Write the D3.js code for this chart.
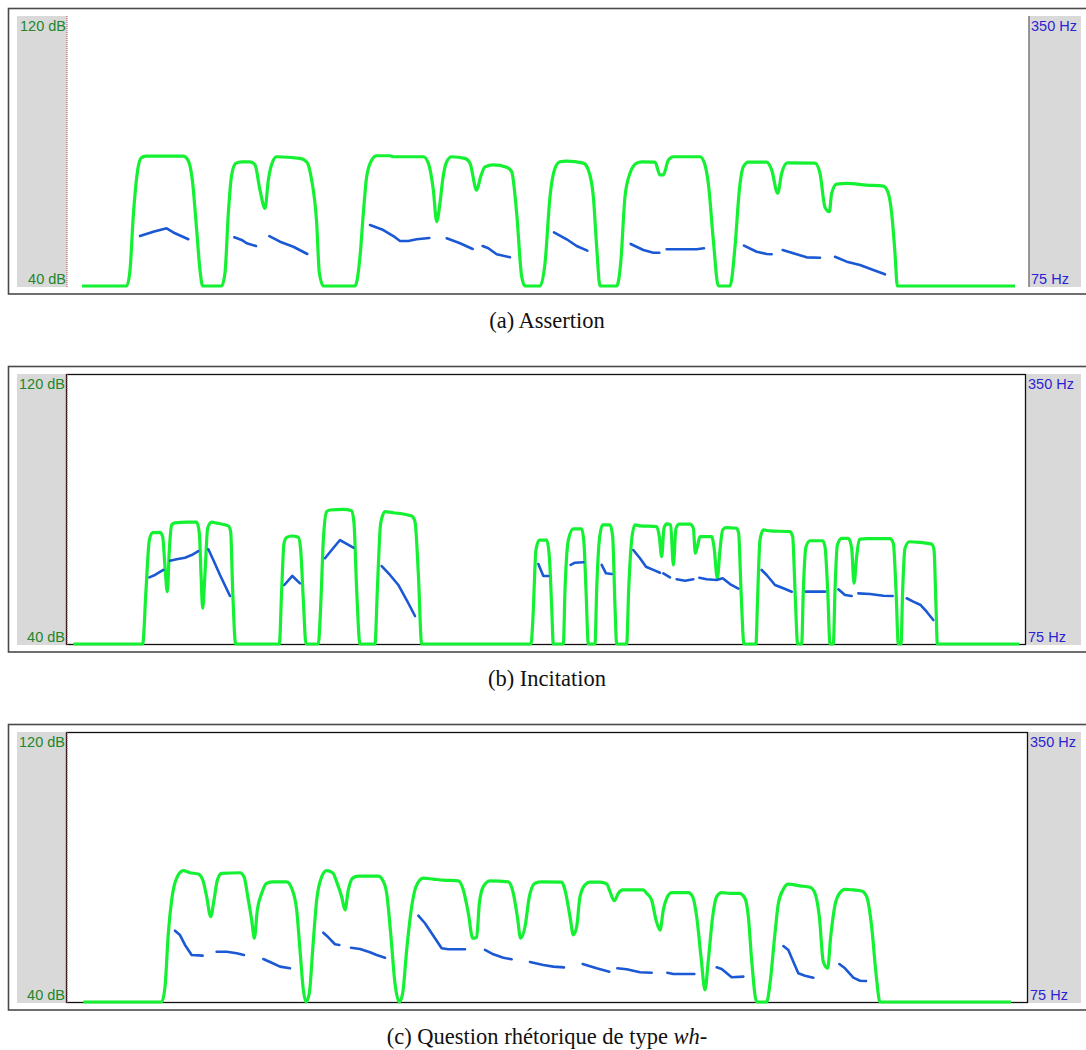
<!DOCTYPE html>
<html><head><meta charset="utf-8">
<script src="https://cdn.jsdelivr.net/npm/d3@7"></script>
<style>body{margin:0;background:#fff}</style></head>
<body>
<script>
// ---------- data ----------
const captionLetters = ["(a)", "(b)", "(c)"];
const captionTexts = ["Assertion", "Incitation", "Question rhétorique de type "];
const captionItalic = ["", "", "wh-"];
const dbLabels = ["120 dB", "40 dB"];
const hzLabels = ["350 Hz", "75 Hz"];
const dbDomain = [40, 120];
const hzDomain = [75, 350];
const timeDomain = [0, 2.88]; // seconds

// intensity (time s, dB)
const intensityA = [[0.045,40],[0.179,40],[0.189,44.7],[0.199,61.0],[0.210,72.9],[0.222,77.9],[0.237,78.5],[0.349,78.5],[0.363,77.3],[0.376,71.4],[0.389,56.6],[0.399,44.7],[0.407,40],
[0.464,40],[0.474,43.9],[0.484,61.6],[0.494,72.9],[0.507,76.4],[0.524,76.8],[0.549,76.8],[0.564,75.9],[0.579,68.4],[0.594,63.0],[0.604,71.4],[0.619,77.3],[0.629,78.3],[0.699,77.8],[0.719,76.8],[0.734,71.4],[0.749,58.7],[0.757,43.9],[0.769,40],
[0.864,40],[0.879,48.7],[0.889,61.6],[0.899,72.4],[0.914,77.3],[0.929,78.6],[0.969,78.6],[0.979,78.3],[1.069,78.3],[1.084,76.4],[1.099,68.4],[1.109,59.1],[1.119,64.6],[1.127,71.4],[1.139,76.8],[1.154,78.3],[1.194,77.8],[1.209,76.4],[1.229,68.4],[1.241,72.4],[1.254,75.3],[1.279,75.9],[1.319,75.2],[1.334,73.9],[1.349,61.6],[1.364,42.8],[1.374,40],
[1.419,40],[1.434,46.7],[1.449,66.5],[1.464,74.9],[1.479,76.8],[1.499,77.0],[1.549,76.4],[1.564,74.4],[1.579,66.5],[1.589,51.6],[1.599,40],
[1.649,40],[1.661,46.7],[1.674,66.5],[1.689,73.4],[1.709,76.4],[1.724,76.8],[1.764,76.7],[1.779,72.9],[1.789,72.9],[1.804,77.3],[1.819,78.3],[1.899,78.3],[1.911,76.8],[1.924,70.4],[1.939,53.6],[1.954,40],
[1.989,40],[2.004,51.6],[2.017,68.4],[2.029,75.3],[2.044,76.7],[2.099,76.7],[2.114,74.4],[2.132,67.5],[2.144,73.4],[2.161,76.5],[2.244,76.4],[2.259,73.4],[2.274,63.3],[2.287,62.0],[2.294,67.5],[2.309,70.2],[2.339,70.4],[2.399,69.9],[2.449,69.6],[2.464,67.5],[2.474,61.5],[2.484,49.7],[2.491,40],[2.844,40]];

const intensityB = [[0.019,40],[0.227,40],[0.237,56.0],[0.247,70.8],[0.257,73.0],[0.279,73.1],[0.287,71.8],[0.294,62.9],[0.301,55.5],[0.307,67.9],[0.314,75.3],[0.324,75.9],[0.359,76.1],[0.389,76.1],[0.397,72.8],[0.402,60.9],[0.407,50.6],[0.414,60.9],[0.422,74.3],[0.434,76.1],[0.449,75.8],[0.484,75.0],[0.491,73.3],[0.497,56.0],[0.506,40],
[0.637,40],[0.644,56.0],[0.651,69.8],[0.659,71.6],[0.674,72.0],[0.694,71.6],[0.701,67.9],[0.709,53.0],[0.717,40],
[0.754,40],[0.761,51.1],[0.769,70.8],[0.779,79.2],[0.789,79.7],[0.829,79.9],[0.854,79.5],[0.861,75.8],[0.869,56.0],[0.879,40],
[0.924,40],[0.931,56.0],[0.941,75.8],[0.954,79.2],[0.979,78.9],[1.034,77.9],[1.044,76.2],[1.054,60.9],[1.064,40],
[1.392,40],[1.397,46.1],[1.407,67.9],[1.417,70.8],[1.439,70.8],[1.447,65.9],[1.454,51.1],[1.459,40],
[1.489,40],[1.494,56.0],[1.504,70.8],[1.519,74.1],[1.544,74.1],[1.551,69.8],[1.557,56.0],[1.564,40],
[1.584,40],[1.589,56.0],[1.597,70.8],[1.607,75.3],[1.629,75.3],[1.637,71.8],[1.644,51.1],[1.649,40],
[1.679,40],[1.685,56.0],[1.694,70.8],[1.704,75.3],[1.719,75.0],[1.769,74.8],[1.777,71.8],[1.784,65.9],[1.791,74.3],[1.799,75.6],[1.811,75.3],[1.819,63.4],[1.827,74.3],[1.837,75.5],[1.869,75.5],[1.879,74.3],[1.885,66.9],[1.892,69.3],[1.899,71.8],[1.934,71.8],[1.941,68.8],[1.951,59.5],[1.959,67.9],[1.967,73.8],[1.977,74.5],[2.009,74.3],[2.015,72.8],[2.022,56.0],[2.031,40],
[2.067,40],[2.071,51.1],[2.079,70.8],[2.089,73.8],[2.109,73.5],[2.169,73.3],[2.177,71.8],[2.184,56.0],[2.192,40],
[2.204,40],[2.209,56.0],[2.217,68.8],[2.229,70.6],[2.267,70.6],[2.274,68.8],[2.282,56.0],[2.289,40],
[2.299,40],[2.304,56.0],[2.311,69.3],[2.324,71.3],[2.344,71.3],[2.354,68.4],[2.361,58.0],[2.369,65.9],[2.377,71.0],[2.399,71.2],[2.469,71.2],[2.479,69.8],[2.487,56.0],[2.494,40],
[2.502,40],[2.507,56.0],[2.514,68.4],[2.527,70.3],[2.559,70.1],[2.594,69.6],[2.601,67.9],[2.607,51.1],[2.611,40],[2.857,40]];

const intensityC = [[0.049,40],[0.284,40],[0.294,44.5],[0.304,60.4],[0.314,70.2],[0.329,76.7],[0.349,78.9],[0.369,78.3],[0.394,77.9],[0.409,75.6],[0.419,71.2],[0.431,65.3],[0.441,70.2],[0.451,76.1],[0.464,78.1],[0.519,78.3],[0.531,77.1],[0.544,70.2],[0.554,64.3],[0.562,58.9],[0.571,67.3],[0.584,72.2],[0.599,75.2],[0.619,75.6],[0.659,75.6],[0.674,73.7],[0.689,67.3],[0.699,55.4],[0.709,43.6],[0.717,40],
[0.727,42.6],[0.737,55.4],[0.749,70.2],[0.764,77.1],[0.779,78.9],[0.797,78.3],[0.809,75.6],[0.824,71.2],[0.834,67.3],[0.844,73.2],[0.857,76.7],[0.874,77.3],[0.934,77.3],[0.947,76.1],[0.959,72.2],[0.971,60.4],[0.984,45.5],[0.997,40],
[1.007,42.6],[1.019,55.4],[1.034,68.2],[1.047,74.2],[1.069,76.7],[1.099,76.4],[1.129,76.1],[1.174,75.9],[1.189,73.2],[1.204,66.3],[1.217,58.9],[1.229,59.2],[1.237,69.2],[1.249,74.2],[1.269,75.9],[1.324,75.6],[1.339,72.2],[1.351,65.3],[1.361,58.9],[1.374,62.3],[1.387,71.2],[1.404,75.2],[1.424,75.6],[1.484,75.5],[1.494,73.2],[1.509,65.3],[1.519,59.9],[1.529,62.3],[1.539,71.2],[1.554,74.7],[1.569,75.5],[1.599,75.5],[1.619,75.0],[1.629,72.7],[1.642,70.0],[1.654,72.2],[1.667,73.2],[1.729,73.2],[1.739,72.2],[1.754,70.2],[1.767,64.3],[1.779,61.3],[1.789,67.3],[1.799,70.7],[1.814,72.4],[1.864,72.4],[1.877,71.2],[1.889,65.3],[1.902,53.4],[1.914,43.6],[1.924,52.4],[1.937,65.3],[1.949,71.2],[1.964,72.4],[1.989,72.2],[2.017,72.2],[2.034,70.7],[2.044,65.3],[2.054,52.4],[2.069,40],
[2.099,40],[2.109,45.5],[2.124,60.4],[2.134,69.2],[2.149,73.4],[2.164,74.9],[2.199,74.4],[2.229,74.0],[2.244,72.2],[2.257,65.3],[2.269,51.9],[2.282,50.0],[2.291,59.3],[2.304,68.7],[2.319,72.4],[2.334,73.4],[2.359,73.2],[2.384,72.9],[2.399,71.2],[2.414,62.3],[2.427,48.5],[2.439,40],[2.832,40]];

// pitch contours (time s, Hz), one list per voiced stretch
const pitchA = [
 [[0.219,125.9],[0.259,130.3],[0.299,133.8],[0.324,128.7],[0.364,122.6]],
 [[0.502,124.6],[0.524,121.9],[0.539,118.5],[0.567,115.7]],
 [[0.607,125.9],[0.639,120.1],[0.679,115.0],[0.721,107.6]],
 [[0.909,137.1],[0.949,132.0],[0.979,125.9],[0.999,120.8],[1.024,120.8],[1.049,122.6],[1.087,123.9]],
 [[1.139,123.6],[1.179,118.5],[1.217,112.7]],
 [[1.247,115.7],[1.264,113.4],[1.289,107.3],[1.329,104.2]],
 [[1.461,129.7],[1.499,122.6],[1.529,115.7],[1.561,111.0]],
 [[1.691,117.8],[1.729,111.7],[1.759,108.9],[1.777,108.9]],
 [[1.799,112.4],[1.889,112.4],[1.911,113.4]],
 [[2.031,116.1],[2.069,109.9],[2.099,107.6],[2.114,107.3]],
 [[2.147,111.7],[2.179,108.3],[2.219,104.2],[2.259,103.8]],
 [[2.304,104.8],[2.339,99.8],[2.379,96.4],[2.419,91.3],[2.454,86.9]]
];
const pitchB = [
 [[0.247,142.9],[0.264,145.3],[0.289,150.4]],
 [[0.309,159.8],[0.329,161.3],[0.354,162.9],[0.374,165.6],[0.394,169.7]],
 [[0.424,171.5],[0.439,160.6],[0.459,145.3],[0.489,123.9]],
 [[0.652,135.1],[0.676,144.3],[0.699,136.8]],
 [[0.774,162.3],[0.794,170.7],[0.819,180.9],[0.839,176.9],[0.859,173.1]],
 [[0.944,154.4],[0.969,145.3],[0.994,135.1],[1.019,119.8],[1.044,103.5]],
 [[1.414,156.5],[1.429,144.3],[1.444,144.3]],
 [[1.511,155.5],[1.524,157.8],[1.549,158.2]],
 [[1.604,155.5],[1.617,147.0],[1.634,146.3]],
 [[1.699,170.7],[1.719,162.3],[1.737,153.7],[1.764,149.7],[1.779,147.6]],
 [[1.789,147.0],[1.809,142.9]],
 [[1.829,140.9],[1.854,139.5],[1.879,140.9]],
 [[1.897,142.5],[1.919,140.9],[1.949,140.2],[1.967,141.9],[1.989,136.1],[2.014,131.3]],
 [[2.084,150.4],[2.099,145.3],[2.124,135.1],[2.149,131.7],[2.174,128.3]],
 [[2.217,128.3],[2.274,128.3]],
 [[2.314,130.7],[2.334,124.9],[2.354,123.9]],
 [[2.374,126.6],[2.409,125.9],[2.449,124.2],[2.477,123.9]],
 [[2.519,121.6],[2.539,118.1],[2.561,114.7],[2.579,107.9],[2.599,99.4]]
];
const pitchC = [
 [[0.324,147.6],[0.339,143.2],[0.354,133.1],[0.374,122.9],[0.407,122.2]],
 [[0.449,126.2],[0.479,126.2],[0.509,124.6],[0.531,122.9]],
 [[0.589,118.8],[0.614,115.0],[0.639,111.0],[0.669,109.3]],
 [[0.769,145.6],[0.784,140.9],[0.804,133.8],[0.817,133.1]],
 [[0.852,130.3],[0.879,129.0],[0.909,125.6],[0.929,122.9],[0.954,120.1]],
 [[1.054,162.9],[1.074,155.2],[1.094,145.0],[1.124,129.7],[1.144,128.7],[1.194,128.7]],
 [[1.254,128.0],[1.279,123.6],[1.309,120.1],[1.334,118.5]],
 [[1.389,115.7],[1.429,112.7],[1.459,111.0],[1.491,110.3]],
 [[1.547,113.7],[1.589,109.3],[1.627,105.9]],
 [[1.651,109.3],[1.679,108.3],[1.719,105.3],[1.754,104.8]],
 [[1.801,104.8],[1.819,103.5],[1.882,103.5]],
 [[1.949,110.3],[1.964,108.6],[1.994,100.2],[2.029,100.8]],
 [[2.149,132.0],[2.164,128.0],[2.179,116.1],[2.194,104.2],[2.214,101.8],[2.239,99.8]],
 [[2.317,113.7],[2.334,109.3],[2.359,99.8],[2.379,96.7],[2.397,96.4]]
];

// ---------- drawing ----------
const W = 1086, H = 1050;
const svg = d3.select("body").append("svg").attr("width", W).attr("height", H)
  .style("display","block");

const panels = [
  {top: 16,  plotLeft: 67, plotRight: 1028, border: false, intensity: intensityA, pitch: pitchA},
  {top: 374, plotLeft: 66, plotRight: 1025, border: true,  intensity: intensityB, pitch: pitchB},
  {top: 732, plotLeft: 66, plotRight: 1027, border: true,  intensity: intensityC, pitch: pitchC}
];
const PH = 270;
const x = d3.scaleLinear().domain(timeDomain).range([67, 1027]);

panels.forEach((p, i) => {
  const g = svg.append("g");
  const yDb = d3.scaleLinear().domain(dbDomain).range([p.top + PH, p.top]);
  const yHz = d3.scaleLinear().domain(hzDomain).range([p.top + PH, p.top]);

  // outer frame
  g.append("rect").attr("x", 8.5).attr("y", p.top - 7.5).attr("width", W + 10).attr("height", PH + 15.5)
    .attr("fill", "none").attr("stroke", "#4a4a4a").attr("stroke-width", 1.6);

  // grey side panels
  g.append("rect").attr("x", 17).attr("y", p.top).attr("width", p.plotLeft - 17).attr("height", PH + 1)
    .attr("fill", "#d9d9d9");
  g.append("rect").attr("x", p.plotRight + 1).attr("y", p.top).attr("width", 1081 - p.plotRight - 1).attr("height", PH + 1)
    .attr("fill", "#d9d9d9");

  if (p.border) {
    g.append("rect").attr("x", p.plotLeft + 0.5).attr("y", p.top + 0.5)
      .attr("width", p.plotRight - p.plotLeft).attr("height", PH)
      .attr("fill", "#fff").attr("stroke", "#111").attr("stroke-width", 1.3);
  } else {
    g.append("line").attr("x1", p.plotRight + 1).attr("x2", p.plotRight + 1)
      .attr("y1", p.top).attr("y2", p.top + PH + 1)
      .attr("stroke", "#808080").attr("stroke-width", 1.6);
  }
  // red dotted cursor line
  g.append("line").attr("x1", 67).attr("x2", 67).attr("y1", p.top).attr("y2", p.top + PH + 1)
    .attr("stroke", "#d04040").attr("stroke-width", 1).attr("stroke-dasharray", "1,1");

  // axis labels
  g.selectAll("text.db").data(dbLabels).join("text")
    .attr("x", p.plotLeft - 1).attr("y", (d, k) => k === 0 ? p.top + 15 : p.top + PH - 2)
    .attr("text-anchor", "end").attr("font-family", "Liberation Sans, Arial, sans-serif")
    .attr("font-size", 14.5).attr("fill", "#23862a").text(d => d);
  g.selectAll("text.hz").data(hzLabels).join("text")
    .attr("x", p.plotRight + 3).attr("y", (d, k) => k === 0 ? p.top + 15 : p.top + PH - 2)
    .attr("text-anchor", "start").attr("font-family", "Liberation Sans, Arial, sans-serif")
    .attr("font-size", 14.5).attr("fill", "#2d1fd2").text(d => d);

  // intensity curve
  const lineDb = d3.line().x(d => x(d[0])).y(d => yDb(d[1])).curve(d3.curveMonotoneX);
  g.append("path").datum(p.intensity).attr("d", lineDb)
    .attr("fill", "none").attr("stroke", "#14f032").attr("stroke-width", 3.2)
    .attr("stroke-linejoin", "round");

  // pitch contours
  const lineHz = d3.line().x(d => x(d[0])).y(d => yHz(d[1]));
  g.selectAll("path.pitch").data(p.pitch).join("path").attr("class", "pitch")
    .attr("d", lineHz).attr("fill", "none").attr("stroke", "#1b58d4").attr("stroke-width", 2.6)
    .attr("stroke-linecap", "round").attr("stroke-linejoin", "round");

  // caption
  const cap = svg.append("text").attr("x", 547).attr("y", p.top + 312)
    .attr("text-anchor", "middle").attr("font-family", "Liberation Serif, Times New Roman, serif")
    .attr("font-size", 22.5).attr("fill", "#111");
  cap.append("tspan").text(captionLetters[i] + " " + captionTexts[i]);
  if (captionItalic[i]) cap.append("tspan").attr("font-style", "italic").text(captionItalic[i]);
});
</script>
</body></html>
